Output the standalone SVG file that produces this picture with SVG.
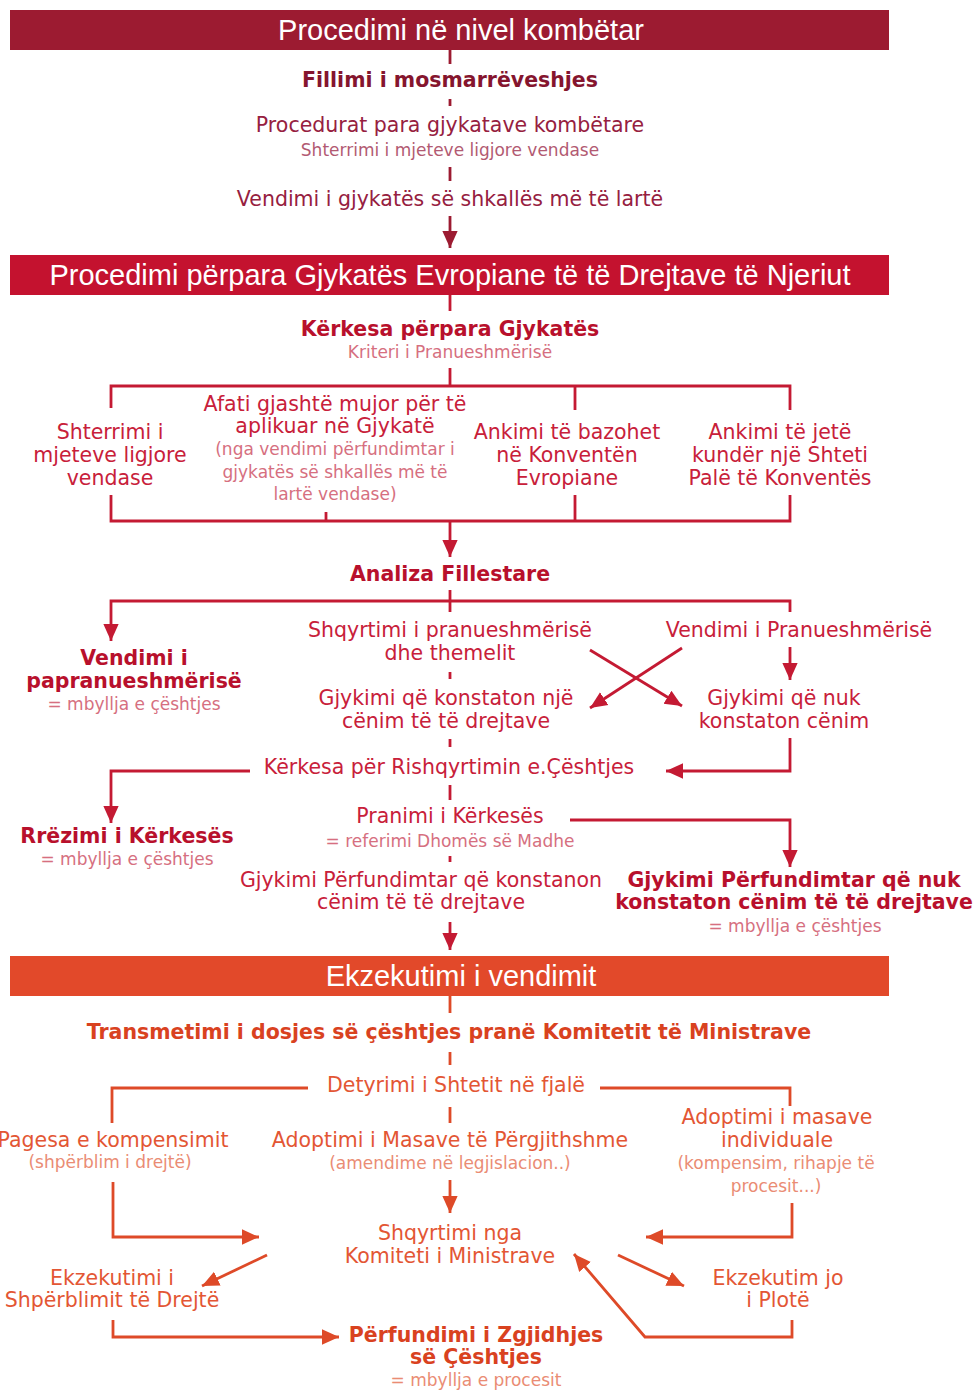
<svg xmlns="http://www.w3.org/2000/svg" width="974" height="1399" viewBox="0 0 974 1399">
<style>
.hd{font-family:'Liberation Sans',Arial,sans-serif;font-size:29px;fill:#fff;text-anchor:middle}
.t{font-family:'DejaVu Sans',Verdana,sans-serif;font-size:20.5px;text-anchor:middle}
.b{font-weight:bold}
.s{font-size:17px}
.c1{fill:#962040}.c1b{fill:#85152E}.c1s{fill:#B25A72}
.c2{fill:#C8203A}.c2b{fill:#B8102C}.c2s{fill:#D66F80}
.c3{fill:#E35634}.c3b{fill:#D9421F}.c3s{fill:#EA8C74}
.l1,.l2,.l3{fill:none;stroke-width:2.8}
.l1{stroke:#9C1B31}.l2{stroke:#C41A33}.l3{stroke:#DE4A28}
</style>
<defs>
<marker id="a1" viewBox="0 0 10 10" refX="10" refY="5" markerWidth="17" markerHeight="17" markerUnits="userSpaceOnUse" orient="auto"><path d="M0,0.5 L10,5 L0,9.5 z" fill="#9C1B31"/></marker>
<marker id="a2" viewBox="0 0 10 10" refX="10" refY="5" markerWidth="17" markerHeight="17" markerUnits="userSpaceOnUse" orient="auto"><path d="M0,0.5 L10,5 L0,9.5 z" fill="#C41A33"/></marker>
<marker id="a3" viewBox="0 0 10 10" refX="10" refY="5" markerWidth="17" markerHeight="17" markerUnits="userSpaceOnUse" orient="auto"><path d="M0,0.5 L10,5 L0,9.5 z" fill="#DE4A28"/></marker>
</defs>

<g id="connectors">
<path class="l1" d="M450,50 V64"/>
<path class="l1" d="M450,99 V106"/>
<path class="l1" d="M450,167 V181"/>
<path class="l1" d="M450,216 V248" marker-end="url(#a1)"/>

<path class="l2" d="M450,295 V311"/>
<path class="l2" d="M450,368 V386"/>
<path class="l2" d="M111,408 V386 H790 V410"/>
<path class="l2" d="M575,386 V410"/>
<path class="l2" d="M111,495 V521 H790 V495"/>
<path class="l2" d="M575,495 V521"/>
<path class="l2" d="M326,512 V521"/>
<path class="l2" d="M450,521 V557" marker-end="url(#a2)"/>
<path class="l2" d="M450,590 V612"/>
<path class="l2" d="M790,612 V601 H111 V641" marker-end="url(#a2)"/>
<path class="l2" d="M790,647 V680" marker-end="url(#a2)"/>
<path class="l2" d="M450,672 V679"/>
<path class="l2" d="M590,650 L682,706" marker-end="url(#a2)"/>
<path class="l2" d="M682,648 L590,708" marker-end="url(#a2)"/>
<path class="l2" d="M450,739 V747"/>
<path class="l2" d="M250,771 H111 V823" marker-end="url(#a2)"/>
<path class="l2" d="M790,738 V771 H666" marker-end="url(#a2)"/>
<path class="l2" d="M450,785 V800"/>
<path class="l2" d="M570,820 H790 V867" marker-end="url(#a2)"/>
<path class="l2" d="M450,856 V862"/>
<path class="l2" d="M450,922 V950" marker-end="url(#a2)"/>

<path class="l3" d="M450,996 V1013"/>
<path class="l3" d="M450,1052 V1065"/>
<path class="l3" d="M308,1088 H112 V1123"/>
<path class="l3" d="M600,1088 H790 V1106"/>
<path class="l3" d="M450,1107 V1123"/>
<path class="l3" d="M450,1180 V1213" marker-end="url(#a3)"/>
<path class="l3" d="M113,1182 V1237 H259" marker-end="url(#a3)"/>
<path class="l3" d="M792,1203 V1237 H646" marker-end="url(#a3)"/>
<path class="l3" d="M267,1255 L202,1286" marker-end="url(#a3)"/>
<path class="l3" d="M618,1255 L684,1286" marker-end="url(#a3)"/>
<path class="l3" d="M113,1320 V1337 H339" marker-end="url(#a3)"/>
<path class="l3" d="M792,1320 V1337 H645 L574,1254" marker-end="url(#a3)"/>
</g>

<g id="h1"><rect x="10" y="10" width="879" height="40" fill="#9C1B31"/><text class="hd" x="461" y="40">Procedimi në nivel kombëtar</text></g>
<g id="n-fillimi"><text class="t b c1b" x="450" y="87">Fillimi i mosmarrëveshjes</text></g>
<g id="n-procedurat"><text class="t c1" x="450" y="132">Procedurat para gjykatave kombëtare</text><text class="t s c1s" x="450" y="156">Shterrimi i mjeteve ligjore vendase</text></g>
<g id="n-vendimi-gj"><text class="t c1" x="450" y="206">Vendimi i gjykatës së shkallës më të lartë</text></g>

<g id="h2"><rect x="10" y="255" width="879" height="40" fill="#C4122F"/><text class="hd" x="450" y="285">Procedimi përpara Gjykatës Evropiane të të Drejtave të Njeriut</text></g>
<g id="n-kerkesa"><text class="t b c2b" x="450" y="336">Kërkesa përpara Gjykatës</text><text class="t s c2s" x="450" y="358">Kriteri i Pranueshmërisë</text></g>
<g id="n-col1"><text class="t c2" x="110" y="439">Shterrimi i</text><text class="t c2" x="110" y="462">mjeteve ligjore</text><text class="t c2" x="110" y="485">vendase</text></g>
<g id="n-col2"><text class="t c2" x="335" y="411">Afati gjashtë mujor për të</text><text class="t c2" x="335" y="433">aplikuar në Gjykatë</text><text class="t s c2s" x="335" y="455">(nga vendimi përfundimtar i</text><text class="t s c2s" x="335" y="478">gjykatës së shkallës më të</text><text class="t s c2s" x="335" y="500">lartë vendase)</text></g>
<g id="n-col3"><text class="t c2" x="567" y="439">Ankimi të bazohet</text><text class="t c2" x="567" y="462">në Konventën</text><text class="t c2" x="567" y="485">Evropiane</text></g>
<g id="n-col4"><text class="t c2" x="780" y="439">Ankimi të jetë</text><text class="t c2" x="780" y="462">kundër një Shteti</text><text class="t c2" x="780" y="485">Palë të Konventës</text></g>
<g id="n-analiza"><text class="t b c2b" x="450" y="581">Analiza Fillestare</text></g>
<g id="n-papran"><text class="t b c2b" x="134" y="665">Vendimi i</text><text class="t b c2b" x="134" y="688">papranueshmërisë</text><text class="t s c2s" x="134" y="710">= mbyllja e çështjes</text></g>
<g id="n-shqyrtimi"><text class="t c2" x="450" y="637">Shqyrtimi i pranueshmërisë</text><text class="t c2" x="450" y="660">dhe themelit</text></g>
<g id="n-pran"><text class="t c2" x="799" y="637">Vendimi i Pranueshmërisë</text></g>
<g id="n-gj-cenim"><text class="t c2" x="446" y="705">Gjykimi që konstaton një</text><text class="t c2" x="446" y="728">cënim të të drejtave</text></g>
<g id="n-gj-nuk"><text class="t c2" x="784" y="705">Gjykimi që nuk</text><text class="t c2" x="784" y="728">konstaton cënim</text></g>
<g id="n-rishq"><text class="t c2" x="449" y="774">Kërkesa për Rishqyrtimin e.Çështjes</text></g>
<g id="n-pranimi"><text class="t c2" x="450" y="823">Pranimi i Kërkesës</text><text class="t s c2s" x="450" y="847">= referimi Dhomës së Madhe</text></g>
<g id="n-rrezimi"><text class="t b c2b" x="127" y="843">Rrëzimi i Kërkesës</text><text class="t s c2s" x="127" y="865">= mbyllja e çështjes</text></g>
<g id="n-gjp-cenim"><text class="t c2" x="421" y="887">Gjykimi Përfundimtar që konstanon</text><text class="t c2" x="421" y="909">cënim të të drejtave</text></g>
<g id="n-gjp-nuk"><text class="t b c2b" x="794" y="887">Gjykimi Përfundimtar që nuk</text><text class="t b c2b" x="794" y="909">konstaton cënim të të drejtave</text><text class="t s c2s" x="795" y="932">= mbyllja e çështjes</text></g>

<g id="h3"><rect x="10" y="956" width="879" height="40" fill="#E2492A"/><text class="hd" x="461" y="986">Ekzekutimi i vendimit</text></g>
<g id="n-transm"><text class="t b c3b" x="449" y="1039">Transmetimi i dosjes së çështjes pranë Komitetit të Ministrave</text></g>
<g id="n-detyrimi"><text class="t c3" x="456" y="1092">Detyrimi i Shtetit në fjalë</text></g>
<g id="n-pagesa"><text class="t c3" x="113" y="1147">Pagesa e kompensimit</text><text class="t s c3s" x="110" y="1168">(shpërblim i drejtë)</text></g>
<g id="n-masa-pergj"><text class="t c3" x="450" y="1147">Adoptimi i Masave të Përgjithshme</text><text class="t s c3s" x="450" y="1169">(amendime në legjislacion..)</text></g>
<g id="n-masa-ind"><text class="t c3" x="777" y="1124">Adoptimi i masave</text><text class="t c3" x="777" y="1147">individuale</text><text class="t s c3s" x="776" y="1169">(kompensim, rihapje të</text><text class="t s c3s" x="776" y="1192">procesit...)</text></g>
<g id="n-komiteti"><text class="t c3" x="450" y="1240">Shqyrtimi nga</text><text class="t c3" x="450" y="1263">Komiteti i Ministrave</text></g>
<g id="n-ekz-shp"><text class="t c3" x="112" y="1285">Ekzekutimi i</text><text class="t c3" x="112" y="1307">Shpërblimit të Drejtë</text></g>
<g id="n-ekz-jo"><text class="t c3" x="778" y="1285">Ekzekutim jo</text><text class="t c3" x="778" y="1307">i Plotë</text></g>
<g id="n-perfund"><text class="t b c3b" x="476" y="1342">Përfundimi i Zgjidhjes</text><text class="t b c3b" x="476" y="1364">së Çështjes</text><text class="t s c3s" x="476" y="1386">= mbyllja e procesit</text></g>
</svg>
